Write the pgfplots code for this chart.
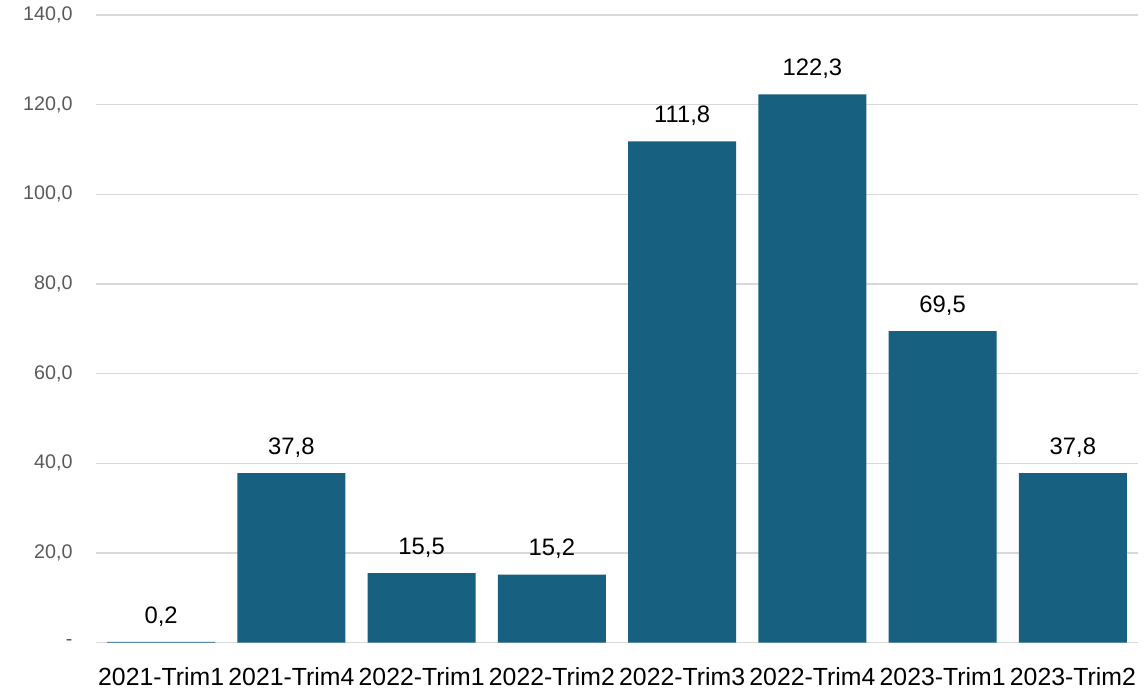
\documentclass[border=0pt]{standalone}
\usepackage{fontspec}
\setmainfont{Liberation Sans}
\usepackage{pgfplots}
\pgfplotsset{compat=1.18}
\definecolor{barblue}{RGB}{23,96,128}
\definecolor{gridgray}{RGB}{217,217,217}
\definecolor{ticktext}{RGB}{89,89,89}
\begin{document}
\begin{tikzpicture}
\begin{axis}[
  name=ax,
  scale only axis,
  width=1042bp, height=627.7bp,
  xmin=-0.5, xmax=7.5, ymin=0, ymax=140,
  axis line style={draw=none},
  ytick={0,20,40,60,80,100,120,140},
  yticklabels={{-\hspace{10bp}},{20,0},{40,0},{60,0},{80,0},{100,0},{120,0},{140,0}},
  xtick={0,1,2,3,4,5,6,7},
  xticklabels={2021-Trim1,2021-Trim4,2022-Trim1,2022-Trim2,2022-Trim3,2022-Trim4,2023-Trim1,2023-Trim2},
  major tick length=0pt,
  ymajorgrids, grid style={draw=gridgray, line width=1.3bp},
  yticklabel style={font=\fontsize{19.7bp}{23bp}\selectfont, text=ticktext, anchor=east, xshift=-20bp},
  xticklabel style={font=\fontsize{24.8bp}{29bp}\selectfont, text=black, anchor=north, yshift=-21bp},
  ybar, bar width=108bp,
  nodes near coords,
  /pgf/number format/.cd, fixed, fixed zerofill, precision=1, use comma, assume math mode=true,
  /pgfplots/.cd,
  every node near coord/.append style={font=\fontsize{23.8bp}{28bp}\selectfont, text=black, anchor=south, yshift=12bp},
  clip=false,
]
\addplot[fill=barblue, draw=none] coordinates {
  (0,0.2) (1,37.8) (2,15.5) (3,15.2) (4,111.8) (5,122.3) (6,69.5) (7,37.8)
};
\end{axis}
\pgfresetboundingbox
\path ([xshift=-96bp,yshift=-48.3bp]ax.south west) rectangle ([xshift=7bp,yshift=15bp]ax.north east);
\end{tikzpicture}
\end{document}
